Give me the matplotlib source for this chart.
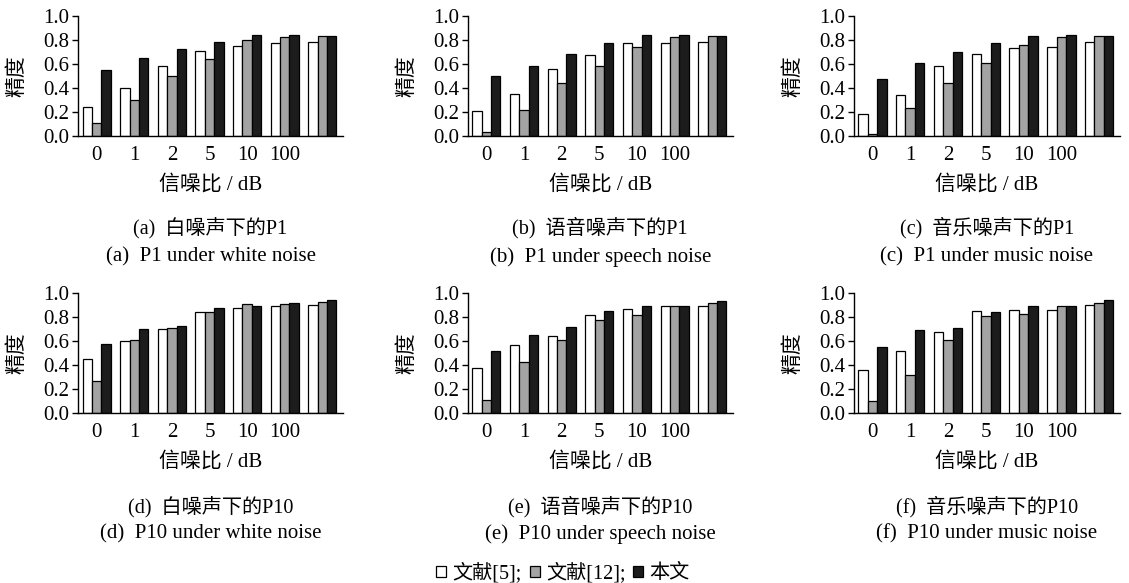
import matplotlib
matplotlib.use("Agg")
import matplotlib.pyplot as plt
from matplotlib.patches import Patch
import numpy as np

plt.rcParams['font.family'] = ['Liberation Serif', 'Noto Sans CJK SC']

# ---------------- data ----------------
snr_labels = ['0', '1', '2', '5', '10', '100', '']
series_names = ['文献[5];', '文献[12];', '本文']

a_ref5  = [0.24, 0.40, 0.58, 0.71, 0.75, 0.77, 0.78]
a_ref12 = [0.11, 0.30, 0.50, 0.64, 0.80, 0.82, 0.83]
a_ours  = [0.55, 0.65, 0.72, 0.78, 0.84, 0.84, 0.835]

b_ref5  = [0.21, 0.35, 0.56, 0.67, 0.77, 0.77, 0.78]
b_ref12 = [0.03, 0.22, 0.44, 0.58, 0.74, 0.82, 0.83]
b_ours  = [0.50, 0.58, 0.68, 0.77, 0.84, 0.84, 0.835]

c_ref5  = [0.18, 0.34, 0.58, 0.68, 0.73, 0.74, 0.78]
c_ref12 = [0.02, 0.23, 0.44, 0.61, 0.76, 0.82, 0.83]
c_ours  = [0.47, 0.61, 0.70, 0.77, 0.83, 0.84, 0.835]

d_ref5  = [0.45, 0.60, 0.70, 0.84, 0.88, 0.89, 0.905]
d_ref12 = [0.27, 0.61, 0.71, 0.84, 0.91, 0.91, 0.93]
d_ours  = [0.58, 0.70, 0.73, 0.88, 0.89, 0.92, 0.94]

e_ref5  = [0.38, 0.57, 0.64, 0.82, 0.87, 0.895, 0.895]
e_ref12 = [0.11, 0.43, 0.61, 0.78, 0.82, 0.895, 0.915]
e_ours  = [0.52, 0.655, 0.72, 0.85, 0.895, 0.895, 0.935]

f_ref5  = [0.36, 0.52, 0.68, 0.85, 0.86, 0.86, 0.90]
f_ref12 = [0.10, 0.32, 0.61, 0.81, 0.83, 0.895, 0.92]
f_ours  = [0.555, 0.69, 0.71, 0.84, 0.895, 0.895, 0.94]

captions_cn = ['(a)  白噪声下的P1', '(b)  语音噪声下的P1', '(c)  音乐噪声下的P1',
               '(d)  白噪声下的P10', '(e)  语音噪声下的P10', '(f)  音乐噪声下的P10']
captions_en = ['(a)  P1 under white noise', '(b)  P1 under speech noise', '(c)  P1 under music noise',
               '(d)  P10 under white noise', '(e)  P10 under speech noise', '(f)  P10 under music noise']
xlabel_text = '信噪比 / dB'
ylabel_text = '精度'

panels = [(a_ref5, a_ref12, a_ours), (b_ref5, b_ref12, b_ours), (c_ref5, c_ref12, c_ours),
          (d_ref5, d_ref12, d_ours), (e_ref5, e_ref12, e_ours), (f_ref5, f_ref12, f_ours)]

colors = ['#ffffff', '#a3a3a3', '#1c1c1c']

# ---------------- layout (pixels) ----------------
W, H = 1129, 583
fig = plt.figure(figsize=(W / 100, H / 100), dpi=100)

col_lr = [(78, 343), (467.5, 733), (853.5, 1120)]
row_tb = [(15.7, 136), (293.3, 413)]
row_text_y = [(185, 228, 257), (462, 507, 534)]

x = np.arange(len(snr_labels))
bw = 0.25

for i, series in enumerate(panels):
    r, c = divmod(i, 3)
    l, rr = col_lr[c]
    t, b = row_tb[r]
    ax = fig.add_axes([l / W, 1 - b / H, (rr - l) / W, (b - t) / H])
    for k, vals in enumerate(series):
        ax.bar(x + (k - 1) * bw, vals, width=bw, color=colors[k],
               edgecolor='black', linewidth=0.9)
    ax.set_xlim(-0.5, 6.55)
    ax.set_ylim(0, 1.0)
    ax.set_yticks(np.arange(0, 1.01, 0.2))
    ax.set_yticklabels([f'{v:.1f}' for v in np.arange(0, 1.01, 0.2)], fontsize=15)
    ax.set_xticks(x[:6])
    ax.set_xticklabels(snr_labels[:6], fontsize=15)
    ax.tick_params(axis='x', length=0, pad=7)
    ax.tick_params(axis='y', length=4, width=1, direction='out', pad=2)
    for s in ['top', 'right']:
        ax.spines[s].set_visible(False)
    for s in ['left', 'bottom']:
        ax.spines[s].set_linewidth(1.0)
    cx = (l + rr) / 2
    ly, c1, c2 = row_text_y[r]
    fig.text(cx / W, 1 - ly / H, xlabel_text, ha='center', va='center', fontsize=15)
    fig.text((l - 60) / W, 1 - ((t + b) / 2) / H, ylabel_text, ha='center', va='center',
             rotation=90, fontsize=15)
    fig.text(cx / W, 1 - c1 / H, captions_cn[i], ha='center', va='center', fontsize=14.5)
    fig.text(cx / W, 1 - c2 / H, captions_en[i], ha='center', va='center', fontsize=15)

handles = [Patch(facecolor=colors[k], edgecolor='black', linewidth=0.9) for k in range(3)]
fig.legend(handles, series_names, ncol=3, loc='center',
           bbox_to_anchor=(563 / W, 1 - 573 / H), frameon=False, fontsize=14.5,
           handlelength=0.5, handleheight=0.5, handletextpad=0.3, columnspacing=0.4,
           borderpad=0, borderaxespad=0)

fig.savefig('out.png', dpi=100)
